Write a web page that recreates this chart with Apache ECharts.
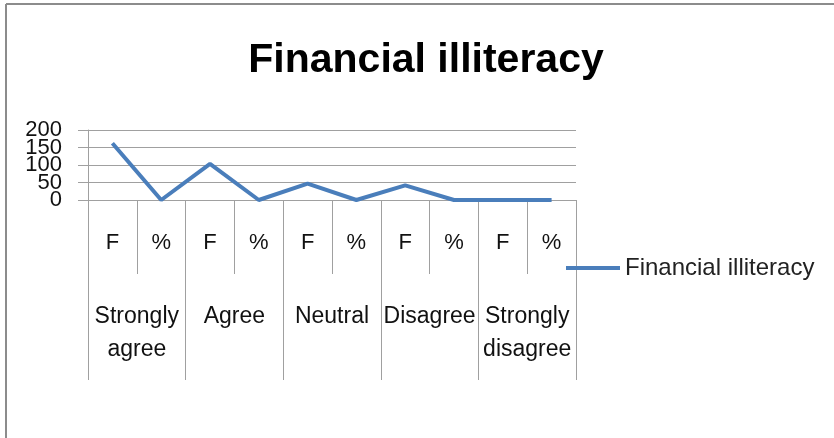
<!DOCTYPE html>
<html>
<head>
<meta charset="utf-8">
<script src="https://cdn.jsdelivr.net/npm/echarts@6/dist/echarts.min.js"></script>
<style>
  html, body { margin: 0; padding: 0; background: #fff; }
  #chart { width: 834px; height: 438px; }
</style>
</head>
<body>
<div id="chart"></div>
<script>
const subLabels = ['F', '%', 'F', '%', 'F', '%', 'F', '%', 'F', '%']
const groupLabels = ['Strongly\nagree', 'Agree', 'Neutral', 'Disagree', 'Strongly\ndisagree']
const values = [162, 0, 103, 0, 47, 0, 42, 0, 0, 0]
const yTicks = [0, 50, 100, 150, 200]

const font = 'Liberation Sans, Arial, sans-serif'
const gray = '#a0a0a0'
const yLabelStyle = { margin: 26, fontFamily: font, fontSize: 22, color: '#111', showMinLabel: true, showMaxLabel: true }

// echarts thins the 0..200 step 50 labels, so the odd ones (50, 150) go on a second
// axis in a grid shifted down by half a step, sharing the same pixel scale
const step = 70 / 4

const chart = echarts.init(document.getElementById('chart'))
chart.setOption({
  backgroundColor: '#fff',
  animation: false,
  title: {
    text: 'Financial illiteracy',
    left: 421,
    textAlign: 'center',
    top: 35,
    textStyle: { fontFamily: font, fontSize: 41, fontWeight: 'bold', color: '#000' }
  },
  legend: {
    left: 561,
    top: 251,
    icon: 'rect',
    itemWidth: 54,
    itemHeight: 4,
    itemGap: 4,
    textStyle: { fontFamily: font, fontSize: 24, color: '#222' },
    data: ['Financial illiteracy']
  },
  graphic: [
    { type: 'line', shape: { x1: 6, y1: 4, x2: 834, y2: 4 }, style: { stroke: '#8c8c8c', lineWidth: 2 } },
    { type: 'line', shape: { x1: 6, y1: 4, x2: 6, y2: 438 }, style: { stroke: '#8c8c8c', lineWidth: 2 } }
  ],
  grid: [
    { left: 88, right: 258, top: 130, bottom: 238 },
    { left: 88, right: 258, top: 130 + step, bottom: 238 + step }
  ],
  xAxis: [
    {
      type: 'category',
      data: subLabels,
      boundaryGap: true,
      axisLine: { show: true, lineStyle: { color: gray } },
      axisTick: { show: true, interval: 0, length: 74, lineStyle: { color: gray } },
      axisLabel: { interval: 0, margin: 32, fontFamily: font, fontSize: 22, color: '#111' }
    },
    {
      type: 'category',
      position: 'bottom',
      data: groupLabels,
      boundaryGap: true,
      axisLine: { show: true, lineStyle: { color: gray } },
      axisTick: { show: true, interval: 0, length: 180, lineStyle: { color: gray } },
      axisLabel: { interval: 0, margin: 100, fontFamily: font, fontSize: 23, lineHeight: 33, color: '#111' }
    },
    { type: 'category', gridIndex: 1, data: subLabels, show: false }
  ],
  yAxis: [
    {
      type: 'value',
      min: yTicks[0],
      max: yTicks[4],
      interval: 50,
      axisLine: { show: true, lineStyle: { color: gray } },
      axisTick: { show: true, length: 10, lineStyle: { color: gray } },
      splitLine: { show: true, lineStyle: { color: gray } },
      axisLabel: yLabelStyle
    },
    {
      type: 'value',
      gridIndex: 1,
      min: yTicks[1],
      max: yTicks[3],
      interval: 100,
      axisLine: { show: false },
      axisTick: { show: true, length: 10, lineStyle: { color: gray } },
      splitLine: { show: false },
      axisLabel: yLabelStyle
    }
  ],
  series: [
    {
      name: 'Financial illiteracy',
      type: 'line',
      data: values,
      symbol: 'none',
      lineStyle: { width: 4, color: '#4a7ebb' },
      itemStyle: { color: '#4a7ebb' }
    }
  ]
})
</script>
</body>
</html>
